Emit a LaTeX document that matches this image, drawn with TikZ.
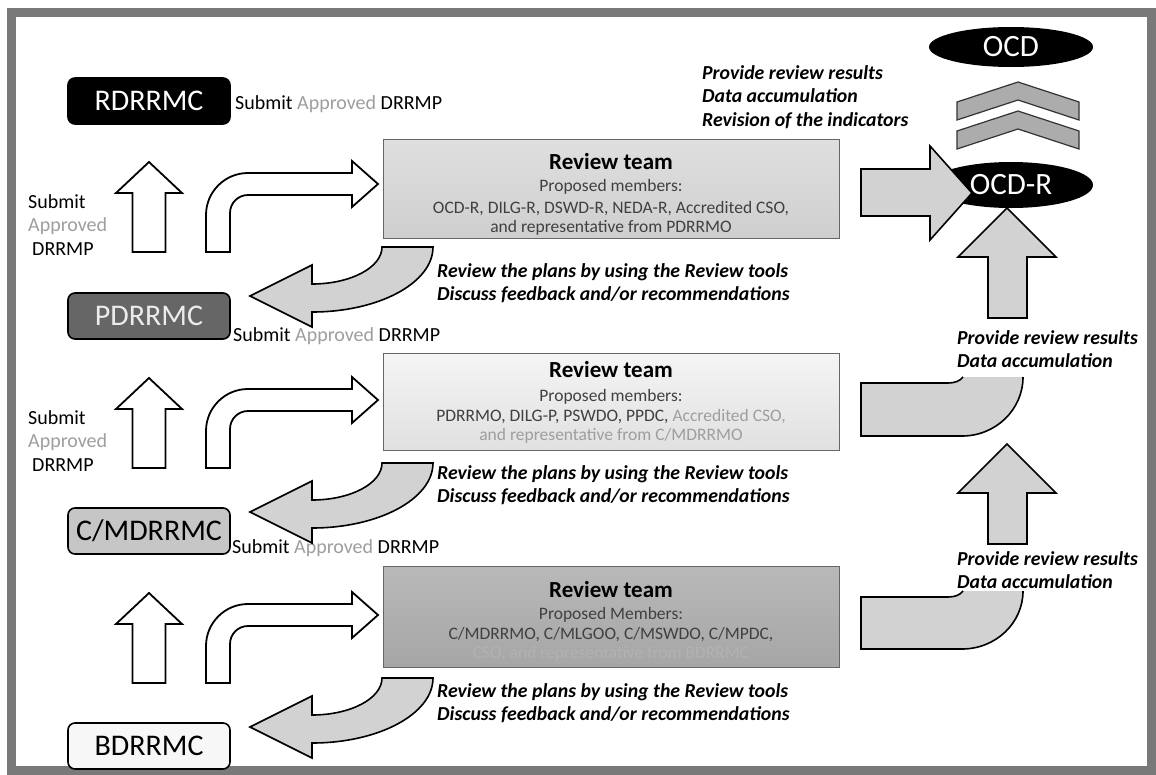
\documentclass[tikz,border=0pt]{standalone}
\usepackage{fontspec}
\setmainfont{Carlito}
\usetikzlibrary{shapes.geometric}
\definecolor{fade}{gray}{0.62}
\definecolor{ink}{gray}{0.25}
\tikzset{unit box/.style={draw=black,line width=1.6pt,rounded corners=7pt,
   minimum width=162pt,minimum height=46pt,inner sep=0pt,
   font=\fontsize{30}{30}\selectfont},
 team box/.style={draw=gray!80!black,line width=0.8pt,minimum width=456pt,inner sep=0pt},
 team title/.style={font=\fontsize{23}{24}\selectfont\bfseries,inner sep=0pt},
 team line/.style={font=\fontsize{17.5}{18}\selectfont,inner sep=0pt,text=ink},
 white arrow/.style={draw=black,fill=white,line width=1.8pt},
 grey arrow/.style={draw=black,fill=gray!35,line width=1.6pt},
 chevron/.style={draw=black!80,fill=gray!65,line width=1.2pt},
 oval/.style={ellipse,fill=black,text=white,minimum width=164pt,inner sep=0pt,
   font=\fontsize{31}{31}\selectfont},
 note/.style={font=\fontsize{19.8}{23.5}\selectfont\bfseries\itshape,anchor=west,
   inner sep=0pt,align=left},
 say/.style={font=\fontsize{20}{22}\selectfont,anchor=west,inner sep=0pt},
}
\newcommand{\appr}{\textcolor{fade}{Approved}}
\begin{document}
\begin{tikzpicture}[x=1pt,y=-1pt]
\useasboundingbox (0,0) rectangle (1156,774);
\fill[white] (0,0) rectangle (1156,774);
\draw[line width=9pt,gray!95!black] (11,12) rectangle (1151.5,770.5);
% left column
\node[unit box,fill=black,text=white] (rd) at (149,101) {RDRRMC};
\node[unit box,fill=gray!80!black,text=gray!15] (pd) at (149,316) {PDRRMC};
\node[unit box,fill=gray!45] (cmd) at (149,531) {C/MDRRMC};
\node[unit box,fill=gray!6] (bd) at (149,746) {BDRRMC};
\node[say] (rd-sub) at (235,104) {Submit \appr{} DRRMP};
\node[say] (pd-sub) at (233,336) {Submit \appr{} DRRMP};
\node[say] (cmd-sub) at (232,548) {Submit \appr{} DRRMP};
\foreach \dy/\n in {0/a,216/b}{
  \node[say] (submit-\n) at (28,202+\dy) {Submit};
  \node[say,text=fade] (approved-\n) at (28,226+\dy) {Approved};
  \node[say] (drrmp-\n) at (32,249+\dy) {DRRMP};
}
\foreach \dy in {0,216,431}{
  \draw[white arrow] (132.5,252+\dy) -- (132.5,193+\dy) -- (116,193+\dy) -- (149,162+\dy)
    -- (182,193+\dy) -- (165.5,193+\dy) -- (165.5,252+\dy) -- cycle;
  \draw[white arrow] (206,252+\dy) -- (206,215+\dy) arc (180:90:42pt) -- (352,173+\dy)
    -- (352,161+\dy) -- (378,184+\dy) -- (352,207+\dy) -- (352,195+\dy) -- (248,195+\dy)
    arc (90:180:18pt) -- (230,252+\dy) -- cycle;
  \draw[grey arrow] (382,247+\dy) -- (433,247+\dy)
    arc[start angle=0,end angle=-90,x radius=121pt,y radius=65pt]
    -- (312,327+\dy) -- (250,296+\dy) -- (312,265+\dy) -- (312,284+\dy)
    arc[start angle=-90,end angle=0,x radius=70pt,y radius=37pt] -- cycle;
}
% review teams
\node[team box,minimum height=99pt,top color=gray!25,bottom color=gray!38] (r1) at (611,188.5) {};
\node[team box,minimum height=97pt,top color=gray!8,bottom color=gray!24] (r2) at (611,401.5) {};
\node[team box,minimum height=101pt,top color=gray!55,bottom color=gray!70] (r3) at (611,616.5) {};
\node[team title] (r1-t) at (611,162) {Review team};
\node[team line] (r1-a) at (611,187) {Proposed members:};
\node[team line] (r1-b) at (611,209) {OCD-R, DILG-R, DSWD-R, NEDA-R, Accredited CSO,};
\node[team line] (r1-c) at (611,228) {and representative from PDRRMO};
\node[team title] (r2-t) at (611,370) {Review team};
\node[team line] (r2-a) at (611,397) {Proposed members:};
\node[team line] (r2-b) at (611,417) {PDRRMO, DILG-P, PSWDO, PPDC, \textcolor{fade}{Accredited CSO,}};
\node[team line,text=fade] (r2-c) at (611,436) {and representative from C/MDRRMO};
\node[team title] (r3-t) at (611,590) {Review team};
\node[team line] (r3-a) at (611,615) {Proposed Members:};
\node[team line] (r3-b) at (611,635) {C/MDRRMO, C/MLGOO, C/MSWDO, C/MPDC,};
\node[team line,text=gray!60] (r3-c) at (611,654) {CSO, and representative from BDRRMC};
\foreach \y/\n in {283/a,485/b,703/c}
  \node[note] (tools-\n) at (437,\y) {Review the plans by using the Review tools\\Discuss feedback and/or recommendations};
% right column
\node[oval,minimum height=40pt] (ocd) at (1011,47) {OCD};
\node[oval,minimum height=46pt] (ocdr) at (1011,185) {OCD-R};
\foreach \a in {82,111}
  \draw[chevron] (957,\a+20) -- (1018,\a) -- (1079,\a+20) -- (1079,\a+38) -- (1018,\a+18)
    -- (957,\a+38) -- cycle;
\draw[grey arrow] (861,169) -- (930,169) -- (930,146) -- (972,193) -- (930,240) -- (930,216)
  -- (861,216) -- cycle;
\foreach \t/\b in {208/318,444/544}
  \draw[grey arrow] (988,\b) -- (988,\t+49) -- (958,\t+49) -- (1007,\t) -- (1056,\t+49)
    -- (1027,\t+49) -- (1027,\b) -- cycle;
\foreach \t/\b/\r in {383/436/59,597/649/58}{
  \fill[gray!35] (861,\t) -- (948,\t) .. controls (955,\t) and (960,\t-2) .. (963,\t-6)
    -- (1023,\t-6) arc[start angle=0,end angle=-90,x radius=61pt,y radius=\r pt] -- (861,\b) -- cycle;
  \draw[line width=1.6pt] (963,\t-6) .. controls (960,\t-2) and (955,\t) .. (948,\t) -- (861,\t)
    -- (861,\b) -- (962,\b) arc[start angle=-90,end angle=0,x radius=61pt,y radius=\r pt];
}
\node[note] (results-a) at (702,97) {Provide review results\\Data accumulation\\Revision of the indicators};
\node[note] (results-b) at (957,349) {Provide review results\\Data accumulation};
\node[note] (results-c) at (957,570) {Provide review results\\Data accumulation};
\end{tikzpicture}
\end{document}
